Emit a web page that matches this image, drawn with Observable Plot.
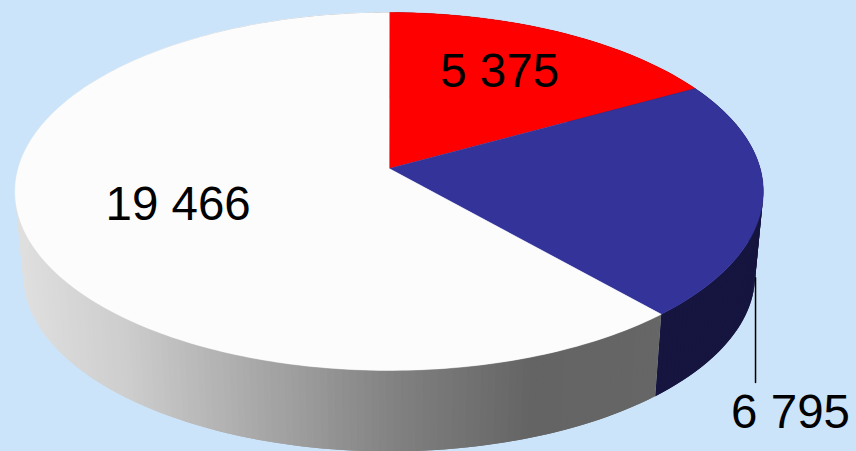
<!DOCTYPE html>
<html>
<head>
<meta charset="utf-8">
<script src="https://cdn.jsdelivr.net/npm/d3@7"></script>
<script src="https://cdn.jsdelivr.net/npm/@observablehq/plot@0.6"></script>
<style>
html,body{margin:0;padding:0;background:#cce4f9;overflow:hidden}
svg{display:block}
</style>
</head>
<body>
<div id="chart"></div>
<script>
// Data
const categories = ["A", "B", "C"];
const values = [5375, 6795, 19466];
const labels = ["5 375", "6 795", "19 466"];
const topColors = ["#ff0000", "#333399", "#fcfcfc"];
const wallColors = ["#800000", "#15153f", null];

// Layout of the perspective pie
const W = 856, H = 451;
const cx = 388.7, cy = 168, rxA = 371, ryB = 176, persp = 0.1285;
const depthScaleX = 0.978, depthScaleY = 0.985, depthDrop = 84;
const labelRadius = [0.674, null, 0.589];
const labelTurn = [-2.2, 0, 1];
const leaderEndY = 382, leaderDx = 0.8, outsideDx = 35, outsideDy = 30;
const shadeStops = [20, 130, 400, 530, 660];
const shadeColors = ["#e0e0e0", "#cdcdcd", "#808080", "#646464", "#666666"];
const rad = Math.PI / 180;

const total = d3.sum(values);
const cum = d3.cumsum(values);
const starts = values.map((v, i) => (cum[i] - v) / total * 360);
const ends = values.map((v, i) => cum[i] / total * 360);

function topPoint(theta, rho = 1) {
  const s = Math.sin(theta * rad) * rho, c = Math.cos(theta * rad) * rho;
  const w = 1 + persp * c;
  return [cx + rxA * s / w, cy - ryB * c / w];
}
function bottomPoint(theta) {
  const [x, y] = topPoint(theta);
  return [cx + (x - cx) * depthScaleX, cy + depthDrop + (y - cy) * depthScaleY];
}
function steps(a, b) {
  const n = Math.max(1, Math.ceil(b - a));
  return d3.range(n + 1).map(i => a + (b - a) * i / n);
}

const shade = d3.scaleLinear().domain(shadeStops).range(shadeColors).clamp(true);

// Side wall: a run of overlapping bands per slice, so no seams show between them.
const wall = [];
categories.forEach((c, i) => {
  const ts = steps(starts[i], ends[i]);
  for (let j = 0; j < ts.length - 1; j++) {
    const a = ts[j], b = ts[Math.min(j + 2, ts.length - 1)];
    const color = wallColors[i] || shade(bottomPoint((a + ts[j + 1]) / 2)[0]);
    const id = `${c}${j}`;
    [topPoint(a), topPoint(b), bottomPoint(b), bottomPoint(a)]
      .forEach(p => wall.push({id, color, x: p[0], y: p[1]}));
  }
});

// Top faces
const faces = [];
categories.forEach((c, i) => {
  const pts = [[cx, cy], ...steps(starts[i], ends[i]).map(t => topPoint(t))];
  pts.forEach(p => faces.push({id: c, color: topColors[i], x: p[0], y: p[1]}));
});

// Labels and leader
const mids = starts.map((s, i) => (s + ends[i]) / 2);
const leaderStart = bottomPoint(mids[1]);
const leaderX = leaderStart[0] + leaderDx;
const textRows = categories.map((c, i) => {
  if (labelRadius[i] == null) {
    return {text: labels[i], x: leaderX + outsideDx, y: leaderEndY + outsideDy};
  }
  const p = topPoint(mids[i] + labelTurn[i], labelRadius[i]);
  return {text: labels[i], x: p[0], y: p[1]};
});
const leader = [
  {x: leaderX, y: leaderStart[1] - 5},
  {x: leaderX, y: leaderEndY}
];

const chart = Plot.plot({
  width: W, height: H,
  margin: 0,
  x: {domain: [0, W], range: [0, W], axis: null},
  y: {domain: [0, H], range: [0, H], axis: null},
  color: {type: "identity"},
  style: {background: "#cce4f9", fontFamily: "'Liberation Sans', Arial, sans-serif"},
  marks: [
    Plot.line(wall, {x: "x", y: "y", z: "id", fill: "color", stroke: "none", curve: "linear-closed"}),
    Plot.line(faces, {x: "x", y: "y", z: "id", fill: "color", stroke: "color", strokeWidth: 0.4, curve: "linear-closed"}),
    Plot.line(leader, {x: "x", y: "y", stroke: "#000000", strokeWidth: 1.5}),
    Plot.text(textRows, {x: "x", y: "y", text: "text", fill: "#000000", fontSize: 47.5, textAnchor: "middle", lineAnchor: "middle"})
  ]
});
document.getElementById("chart").appendChild(chart);
</script>
</body>
</html>
